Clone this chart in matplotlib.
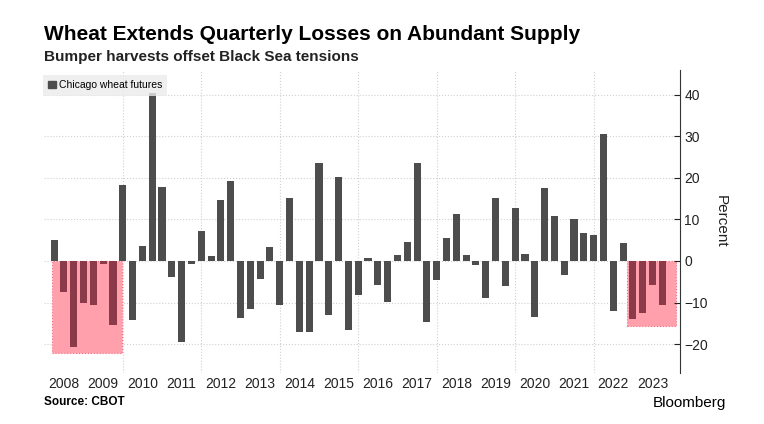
import matplotlib.pyplot as plt
from matplotlib.patches import Rectangle

plt.rcParams['font.family'] = ['Liberation Sans', 'DejaVu Sans']

# quarterly % change, 2008 Q1 .. 2023 Q3
quarters_start = 2008
values = [
    5.0, -7.4, -20.7, -10.2,
    -10.7, -0.7, -15.4, 18.4,
    -14.2, 3.5, 40.5, 17.8,
    -3.8, -19.5, -0.8, 7.2,
    1.3, 14.6, 19.2, -13.7,
    -11.5, -4.3, 3.3, -10.7,
    15.2, -17.1, -17.1, 23.5,
    -13.1, 20.3, -16.6, -8.2,
    0.7, -5.8, -9.8, 1.5,
    4.6, 23.5, -14.8, -4.6,
    5.6, 11.3, 1.5, -1.0,
    -9.0, 15.2, -6.0, 12.7,
    1.8, -13.4, 17.5, 10.8,
    -3.4, 10.0, 6.8, 6.2,
    30.5, -12.1, 4.3, -14.0,
    -12.5, -5.8, -10.6,
]
years = list(range(2008, 2024))
yticks = [-20, -10, 0, 10, 20, 30, 40]

# quarter-end positions in fractional years
xs = [quarters_start + 0.25 * (i + 1) for i in range(len(values))]
highlight = set(range(1, 7)) | set(range(59, 63))
colors = ['#8b3a4a' if i in highlight else '#4d4d4d' for i in range(len(values))]

fig = plt.figure(figsize=(7.64, 4.24), dpi=100)
ax = fig.add_axes([0.058, 0.12, 0.832, 0.715])

ax.add_patch(Rectangle((2008.19, -22.2), 2009.97 - 2008.19, 22.2,
                       facecolor='#ffa0ac', edgecolor='#f07080', lw=0.8,
                       ls=':', zorder=1))
ax.add_patch(Rectangle((2022.85, -15.6), 2024.1 - 2022.85, 15.6,
                       facecolor='#ffa0ac', edgecolor='#f07080', lw=0.8,
                       ls=':', zorder=1))
ax.bar(xs, values, width=0.18, color=colors, zorder=2)

ax.set_xlim(2008.0, 2024.2)
ax.set_ylim(-27, 46)
ax.set_yticks(yticks)
ax.yaxis.tick_right()
ax.yaxis.set_label_position('right')
ax.set_ylabel('Percent', rotation=270, labelpad=14, fontsize=11, color='#222222')
ax.tick_params(axis='y', direction='in', length=4, labelsize=10, colors='#222222', pad=3)
ax.set_xticks([y + 0.5 for y in years])
ax.set_xticklabels([str(y) for y in years], fontsize=10, color='#222222')
ax.tick_params(axis='x', length=0, pad=3)
for y in yticks:
    ax.axhline(y, color='#d0d0d0', lw=0.8, ls=':', zorder=0)
for y in range(2010, 2024, 2):
    ax.axvline(y, color='#d0d0d0', lw=0.8, ls=':', zorder=0)
for s in ['top', 'left', 'bottom']:
    ax.spines[s].set_visible(False)
ax.spines['right'].set_color('#333333')

leg = ax.legend([Rectangle((0, 0), 1, 1, color='#4d4d4d')], ['Chicago wheat futures'],
                loc='upper left', bbox_to_anchor=(-0.01, 1.0), fontsize=7.5,
                frameon=True, fancybox=False, handlelength=0.7, handleheight=0.7,
                handletextpad=0.3, borderpad=0.5)
leg.get_frame().set_facecolor('#ececec')
leg.get_frame().set_edgecolor('none')

fig.text(0.058, 0.905, 'Wheat Extends Quarterly Losses on Abundant Supply',
         fontsize=15, fontweight='bold')
fig.text(0.058, 0.855, 'Bumper harvests offset Black Sea tensions',
         fontsize=11, fontweight='bold', color='#222222')
fig.text(0.058, 0.045, 'Source: CBOT', fontsize=8.5, fontweight='bold')
fig.text(0.95, 0.04, 'Bloomberg', fontsize=11, ha='right')

fig.savefig('out.png', dpi=100)
